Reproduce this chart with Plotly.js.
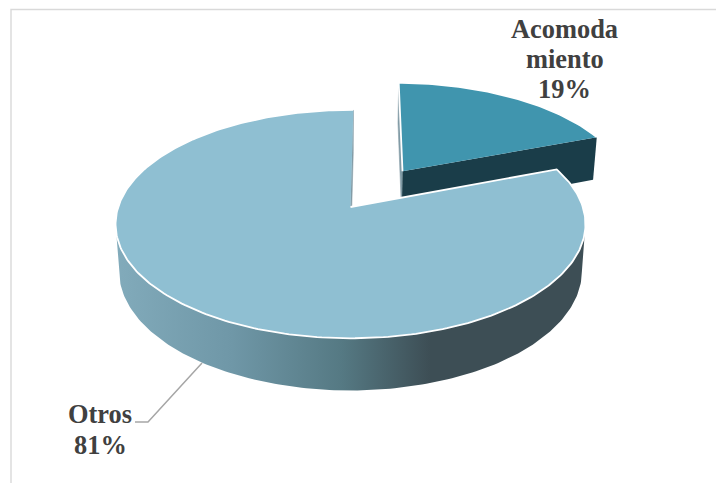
<!DOCTYPE html>
<html>
<head>
<meta charset="utf-8">
<script src="https://cdn.plot.ly/plotly-3.0.1.min.js"></script>
<style>html,body{margin:0;padding:0;background:#fff}#chart{width:716px;height:485px}</style>
</head>
<body>
<div id="chart"></div>
<script>
// Share of each category, in the order the slices run clockwise from twelve o'clock
const categories = ['Acomoda\nmiento', 'Otros'];
const values = [19, 81];
const total = values.reduce((a, b) => a + b, 0);

// Colours of the tilted pie
const topColors = ['#4095ae', '#8fbfd2'];
const wallDark = '#1a3d49';
const rimStops = [[0, '#82abbb'], [0.25, '#6f97a7'], [0.483, '#557983'], [0.67, '#3d4e55'], [1, '#3d4e55']];

// Perspective of the disc, in pixel-sized axis units
const view = {cx: 350.5, cy: 207, rx: 232.3, ry: 111.6, depth: 0.15, height: 46, taper: 0.015};
const EXPLODE = 0.41;
const ROTATION = 0.8;
const DEG = Math.PI / 180;

// Projects a point of the disc plane (u to the right, v away from the viewer);
// z runs from 0 on the top face to 1 on the bottom face.
function project(u, v, z) {
  const w = 1 + view.depth * v;
  const s = 1 - view.taper * z;
  return [view.cx + s * view.rx * u / w, view.cy + (-s * view.ry * v + view.height * z) / w];
}
function rimPoint(slice, deg, z) {
  const a = deg * DEG;
  return project(slice.ox + Math.sin(a), slice.oy + Math.cos(a), z);
}
function arc(slice, from, to, z) {
  const pts = [];
  const n = Math.max(2, Math.ceil(Math.abs(to - from)));
  for (let i = 0; i <= n; i++) pts.push(rimPoint(slice, from + (to - from) * i / n, z));
  return pts;
}
function poly(pts, style) {
  return Object.assign({
    x: pts.map(p => p[0]), y: pts.map(p => p[1]),
    type: 'scatter', mode: 'lines', fill: 'toself', hoverinfo: 'skip', showlegend: false
  }, style);
}

// Slice extents derived from the values
let running = 0;
const slices = values.map((v, i) => {
  const start = ROTATION + running / total * 360;
  running += v;
  const end = ROTATION + running / total * 360;
  const mid = (start + end) / 2 * DEG;
  const e = i === 0 ? EXPLODE : 0;
  return {start, end, ox: e * Math.sin(mid), oy: e * Math.cos(mid)};
});
const [small, large] = slices;
const hub = (s, z) => project(s.ox, s.oy, z);
const noLine = {line: {width: 0, color: 'rgba(0,0,0,0)'}};
const edge = {line: {width: 1.8, color: '#ffffff'}};

// The outer wall is visible between the two silhouette angles of the projected disc
const silhouette = Math.acos(-view.depth) / DEG;

const traces = [
  // Exploded slice: cut faces, then its top
  poly([hub(small, 0), rimPoint(small, small.start, 0), rimPoint(small, small.start, 1), hub(small, 1)],
       {fillcolor: '#7f9aa5', line: {width: 0.6, color: '#8aa0aa'}}),
  poly([hub(small, 0), rimPoint(small, small.end, 0), rimPoint(small, small.end, 1), hub(small, 1)],
       Object.assign({fillcolor: wallDark}, noLine)),
  poly([hub(small, 0)].concat(arc(small, small.start, small.end, 0)),
       Object.assign({fillcolor: topColors[0]}, edge)),
  // Large slice: cut face, shaded rim, then its top
  poly([hub(large, 0), rimPoint(large, large.end, 0), rimPoint(large, large.end, 1), hub(large, 1)],
       {fillcolor: '#7f9aa5', line: {width: 0.6, color: '#8aa0aa'}}),
  poly(arc(large, silhouette, 360 - silhouette, 0).concat(arc(large, 360 - silhouette, silhouette, 1)),
       Object.assign({fillcolor: '#557983',
         fillgradient: {type: 'horizontal', colorscale: rimStops, start: 115, stop: 585}}, noLine)),
  poly([hub(large, 0)].concat(arc(large, large.start, large.end, 0)),
       Object.assign({fillcolor: topColors[1]}, edge)),
  // Leader line of the large slice's label
  {x: [135, 148, 202], y: [422, 422, 363], type: 'scatter', mode: 'lines',
   line: {color: '#a6a6a6', width: 1.5}, hoverinfo: 'skip', showlegend: false},
  // Chart-area frame: only its left and top edges show
  {x: [11, 11, 716], y: [483, 9.5, 9.5], type: 'scatter', mode: 'lines',
   line: {color: '#d9d9d9', width: 1.4}, hoverinfo: 'skip', showlegend: false}
];

// Labels: category name lines, then the percentage
const labelFont = {family: '"Liberation Serif", serif', size: 26.4, color: '#404040'};
function labelLines(i, x, ys) {
  const lines = categories[i].split('\n').concat(Math.round(values[i] / total * 100) + '%');
  return lines.map((t, k) => ({
    text: '<b>' + t + '</b>', x: x, y: ys[k], xref: 'x', yref: 'y',
    showarrow: false, xanchor: 'center', yanchor: 'middle', font: labelFont
  }));
}

const layout = {
  width: 716, height: 485,
  margin: {l: 0, r: 0, t: 0, b: 0},
  paper_bgcolor: '#ffffff', plot_bgcolor: '#ffffff',
  showlegend: false,
  xaxis: {range: [0, 716], visible: false, fixedrange: true},
  yaxis: {range: [485, 0], visible: false, fixedrange: true},
  annotations: labelLines(0, 564.5, [29, 59, 89]).concat(labelLines(1, 100, [414, 445]))
};

Plotly.newPlot('chart', traces, layout, {displayModeBar: false, staticPlot: true});
</script>
</body>
</html>
